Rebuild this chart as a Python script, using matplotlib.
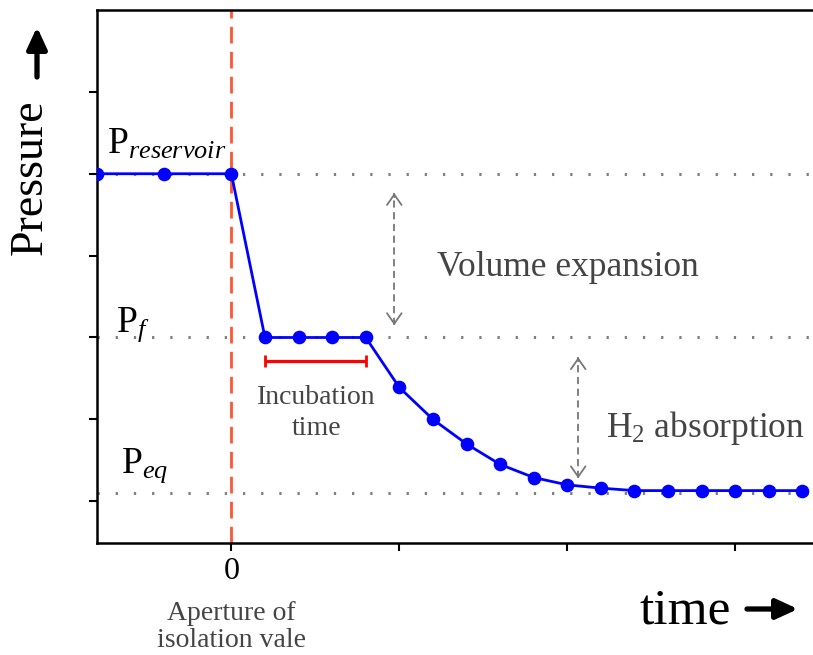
import matplotlib
matplotlib.use("Agg")
import matplotlib.pyplot as plt
from matplotlib.transforms import blended_transform_factory

plt.rcParams['font.family'] = ['Liberation Serif', 'DejaVu Serif']
plt.rcParams['mathtext.fontset'] = 'custom'
plt.rcParams['mathtext.rm'] = 'Liberation Serif'
plt.rcParams['mathtext.it'] = 'Liberation Serif:italic'

# Pressure trace (arbitrary units): reservoir, expansion plateau, absorption decay
time_pts = [-0.8, -0.4, 0.0, 0.2, 0.4, 0.6, 0.8, 1.0, 1.2, 1.4, 1.6, 1.8,
            2.0, 2.2, 2.4, 2.6, 2.8, 3.0, 3.2, 3.4]
pressure = [4.0, 4.0, 4.0, 2.0, 2.0, 2.0, 2.0, 1.39, 1.00, 0.70, 0.45, 0.29,
            0.20, 0.16, 0.13, 0.13, 0.13, 0.13, 0.13, 0.13]

# Reference pressure levels
p_reservoir = 4.0
p_final = 2.0
p_equilibrium = 0.105

# Incubation interval
incubation_start = 0.2
incubation_end = 0.8

x_ticks = [0, 1, 2, 3]
x_tick_labels = ['0', '', '', '']
y_ticks = [0, 1, 2, 3, 4, 5]

fig = plt.figure(figsize=(8.13, 6.55), dpi=100)
ax = fig.add_axes([97 / 813, 112 / 655, 739 / 813, 533 / 655])
ax.set_xlim(-0.8, 3.6)
ax.set_ylim(-0.51, 6.0)

for s in ['left', 'bottom', 'top', 'right']:
    ax.spines[s].set_linewidth(1.8)

ax.set_xticks(x_ticks)
ax.set_xticklabels(x_tick_labels, fontsize=23)
ax.set_yticks(y_ticks)
ax.set_yticklabels([])
ax.tick_params(axis='both', direction='out', length=6, width=1.5)
ax.tick_params(axis='x', pad=4)

# Dotted reference levels
dot_style = dict(color='#808080', lw=2.2, linestyle=(0, (0.75, 5.2)), zorder=1)
for level in (p_reservoir, p_final, p_equilibrium):
    ax.axhline(level, **dot_style)

# Valve opening
ax.axvline(0, color='#FF5533', lw=2.0, linestyle=(0, (6, 3)), zorder=2)

# Pressure curve
ax.plot(time_pts, pressure, color='#0000FF', lw=2.0, marker='o',
        markersize=8.8, zorder=4)

# Incubation time bar
ax.errorbar((incubation_start + incubation_end) / 2, 1.71,
            xerr=(incubation_end - incubation_start) / 2,
            fmt='none', ecolor='#FF0000', elinewidth=2.3, capsize=4,
            capthick=2.0, zorder=3)


def double_arrow(x, y0, y1):
    ax.plot([x, x], [y0, y1], color='#777777', lw=1.3,
            linestyle=(0, (4, 2.5)), zorder=2)
    hp = dict(arrowstyle='->,head_length=0.5,head_width=0.35', color='#777777',
              lw=1.3, shrinkA=0, shrinkB=0, mutation_scale=15)
    ax.annotate('', xy=(x, y1), xytext=(x, y1 - 0.05), arrowprops=hp)
    ax.annotate('', xy=(x, y0), xytext=(x, y0 + 0.05), arrowprops=hp)


double_arrow(0.970, 2.15, 3.765)
double_arrow(2.065, 0.28, 1.76)

text_grey = '#444444'
ax.text(1.226, 2.75, 'Volume expansion', fontsize=25.5, color=text_grey,
        ha='left', va='baseline')
ax.text(2.232, 0.78, r'H$_2$ absorption', fontsize=25.5, color=text_grey,
        ha='left', va='baseline')
ax.text(0.506, 1.186, 'Incubation', fontsize=20, color=text_grey,
        ha='center', va='baseline')
ax.text(0.506, 0.807, 'time', fontsize=20, color=text_grey,
        ha='center', va='baseline')

ax.text(-0.738, 4.25, r'P$_{\mathit{reservoir}}$', fontsize=27,
        ha='left', va='baseline')
ax.text(-0.685, 2.07, r'P$_{\mathit{f}}$', fontsize=27,
        ha='left', va='baseline')
ax.text(-0.655, 0.345, r'P$_{\mathit{eq}}$', fontsize=27,
        ha='left', va='baseline')

# Caption under the zero tick
cap_tr = blended_transform_factory(ax.transData, fig.transFigure)
ax.text(0, (655 - 620) / 655, 'Aperture of', transform=cap_tr, fontsize=20,
        color=text_grey, ha='center', va='baseline')
ax.text(0, (655 - 647) / 655, 'isolation vale', transform=cap_tr, fontsize=20,
        color=text_grey, ha='center', va='baseline')

# Axis titles with arrows
fig.text(30 / 813, (655 - 177) / 655, 'Pressure', fontsize=33, rotation=90,
         ha='center', va='center')
fig.text(685 / 813, (655 - 623) / 655, 'time', fontsize=37,
         ha='center', va='baseline')

big_arrow = dict(arrowstyle='-|>,head_length=0.65,head_width=0.3',
                 color='black', lw=3.8, shrinkA=0, shrinkB=0, mutation_scale=20)
ax.annotate('', xy=(37, 655 - 27), xytext=(37, 655 - 77),
            xycoords='figure pixels', textcoords='figure pixels',
            arrowprops=big_arrow)
ax.annotate('', xy=(798, 655 - 609), xytext=(747, 655 - 609),
            xycoords='figure pixels', textcoords='figure pixels',
            arrowprops=big_arrow)

fig.savefig('out.png', dpi=100)
